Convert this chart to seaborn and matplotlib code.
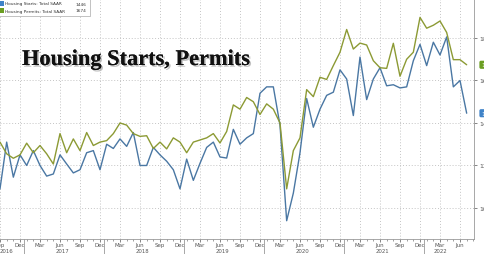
import numpy as np
import pandas as pd
import matplotlib
matplotlib.use("Agg")
import matplotlib.pyplot as plt
import matplotlib.patheffects as pe
from matplotlib.ticker import MultipleLocator, FixedLocator
import seaborn as sns

months = pd.date_range("2016-09-01", "2022-07-01", freq="MS")

starts = [10.9, 13.1, 11.45, 12.5,
          12.0, 12.7, 12.0, 11.5, 11.6, 12.5, 12.07, 11.65, 11.8, 12.6, 12.7, 11.8,
          13.0, 12.8, 13.25, 12.9, 13.55, 12.0, 12.0, 12.85, 12.5, 12.2, 11.8, 10.9,
          12.3, 11.3, 12.1, 12.85, 13.1, 12.4, 12.35, 13.7, 13.0, 13.3, 13.5, 15.4,
          15.7, 15.7, 13.9, 9.4, 10.7, 12.6, 15.15, 13.8, 14.65, 15.3, 15.45, 16.5,
          16.07, 14.35, 17.1, 15.1, 16.07, 16.6, 15.75, 15.8, 15.65, 15.7, 16.93, 17.7,
          16.7, 17.8, 17.2, 18.05, 15.7, 16.0, 14.46]

permits = [13.1, 12.55, 12.34, 12.5,
           13.05, 12.6, 12.94, 12.55, 12.07, 13.5, 12.6, 13.25, 12.7, 13.55, 12.94, 13.1,
           13.17, 13.5, 14.0, 13.9, 13.5, 13.37, 13.4, 12.8, 13.1, 12.78, 13.3, 13.1,
           12.6, 13.1, 13.2, 13.3, 13.5, 13.06, 13.6, 14.85, 14.65, 15.2, 15.0, 14.4,
           14.9, 14.65, 14.0, 10.9, 12.7, 13.3, 15.57, 15.24, 16.15, 16.05, 16.7, 17.33,
           18.4, 17.48, 17.76, 17.67, 16.93, 16.6, 16.57, 17.75, 16.2, 17.0, 17.33, 18.97,
           18.46, 18.6, 18.8, 18.26, 16.98, 16.98, 16.74]

legend_labels = ["Housing Starts: Total SAAR", "Housing Permits: Total SAAR"]
legend_values = ["1446", "1674"]
tag_values = ["14.46", "16.74"]
yticks = [10, 12, 14, 16, 18]
title = "Housing Starts, Permits"

blue = "#4a77a3"
green = "#8c9a34"
tag_blue = "#3f83c8"
tag_green = "#6b9e22"

sns.set_theme(style="white")
plt.rcParams["font.family"] = ["DejaVu Sans"]

fig = plt.figure(figsize=(4.85, 2.55), dpi=100)
ax = fig.add_axes([0.0, 1 - 240 / 255, 474 / 485, 240 / 255])

idx = np.arange(len(months))
df = pd.DataFrame({"i": idx, "starts": starts, "permits": permits})
sns.lineplot(data=df, x="i", y="starts", ax=ax, color=blue, lw=1.0)
sns.lineplot(data=df, x="i", y="permits", ax=ax, color=green, lw=1.0)

ax.set_xlim(0, 71.1)
ax.set_ylim(8.54, 19.835)

# quarterly ticks: Sep, Dec, Mar, Jun
qpos = [i for i, m in enumerate(months) if m.month in (3, 6, 9, 12)]
qlab = [months[i].strftime("%b") for i in qpos]
ax.xaxis.set_major_locator(FixedLocator(qpos))
ax.set_xticklabels(qlab)
ax.xaxis.set_minor_locator(MultipleLocator(1))
ax.tick_params(axis="x", which="major", labelsize=4.0, length=2, width=0.5,
               colors="#555555", pad=0.3, direction="out", bottom=True)
ax.tick_params(axis="x", which="minor", length=1.2, width=0.5, colors="#777777",
               bottom=True)

ax.yaxis.tick_right()
ax.set_yticks(yticks)
ax.set_yticklabels([str(v) for v in yticks])
ax.tick_params(axis="y", labelsize=4.5, length=2.5, width=0.5, colors="#555555",
               pad=1, right=True, left=False)

ax.grid(True, axis="both", which="major", color="#c4c4c4", lw=0.7,
        linestyle=(0, (1, 2)))
ax.set_xlabel("")
ax.set_ylabel("")

for s in ["left", "top"]:
    ax.spines[s].set_visible(False)
for s in ["right", "bottom"]:
    ax.spines[s].set_visible(True)
    ax.spines[s].set_color("#999999")
    ax.spines[s].set_linewidth(0.6)

# year labels and separators
years = sorted(set(m.year for m in months))
for y in years:
    ys = [i for i, m in enumerate(months) if m.year == y]
    if y == 2016:
        xc = 0.9
    elif y == 2022:
        xc = 66
    else:
        xc = ys[0] + 5.3
    ax.text(xc, -0.049, str(y), transform=ax.get_xaxis_transform(),
            fontsize=3.9, color="#555555", ha="center", va="center", clip_on=False)
    if y > years[0]:
        ax.plot([ys[0] - 0.45, ys[0] - 0.45], [0, -0.07], transform=ax.get_xaxis_transform(),
                color="#999999", lw=0.6, clip_on=False)

# title
ax.text(22 / 474 * 71.1, (255 - 61 - 15) / 240, title, transform=ax.get_xaxis_transform(),
        fontsize=16.1, family="Liberation Serif", fontweight="bold", color="#111111",
        va="center", ha="left",
        path_effects=[pe.withSimplePatchShadow(offset=(1.2, -1.2), shadow_rgbFace="#999999", alpha=0.6),
                      pe.Normal()])

# legend box
fig.patches.append(plt.Rectangle((-0.005, 1 - 17 / 255), 92 / 485, 17 / 255,
                                 transform=fig.transFigure, fc="white", ec="#aaaaaa",
                                 lw=0.5, zorder=5))
for k, (lab, val, col) in enumerate(zip(legend_labels, legend_values, [tag_blue, tag_green])):
    yy = 1 - (4.5 + 7 * k) / 255
    fig.patches.append(plt.Rectangle((0.0, yy - 2.5 / 255), 4 / 485, 5 / 255,
                                     transform=fig.transFigure, fc=col, ec="none", zorder=6))
    fig.text(5.5 / 485, yy, lab, fontsize=3.1, color="#333333", va="center", ha="left", zorder=7)
    fig.text(86 / 485, yy, val, fontsize=3.1, color="#333333", va="center", ha="right", zorder=7)

# right tags
for val, last, col in [(tag_values[0], starts[-1], tag_blue), (tag_values[1], permits[-1], tag_green)]:
    ax.annotate(val, xy=(1.0, last), xycoords=("axes fraction", "data"),
                xytext=(5, 0), textcoords="offset points", fontsize=4.5, color="white",
                va="center", ha="left", annotation_clip=False,
                bbox=dict(boxstyle="round,pad=0.25", fc=col, ec="none"))

fig.savefig("out.png", dpi=100)
